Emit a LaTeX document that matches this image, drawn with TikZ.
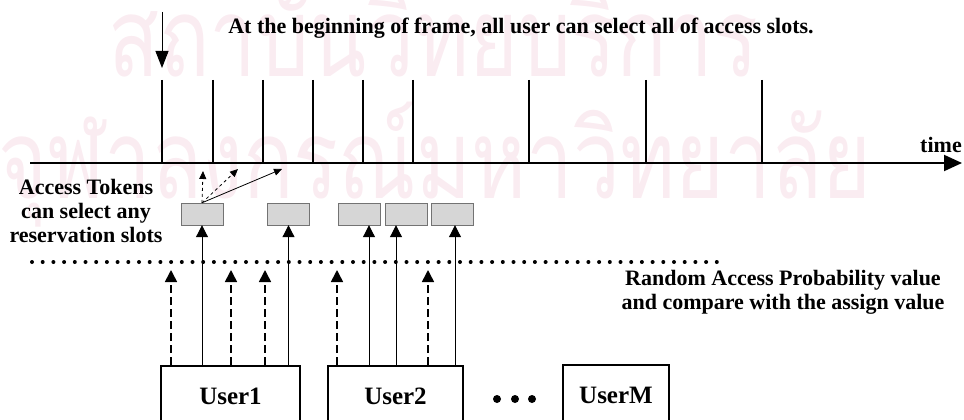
\documentclass[tikz,border=0pt]{standalone}
\usepackage{fontspec}
\setmainfont{Liberation Serif}
\newfontfamily\thaifont[Script=Thai,FakeStretch=0.76]{Loma}
\usetikzlibrary{arrows.meta}
\definecolor{wmpink}{RGB}{250,236,241}
\definecolor{slotgray}{RGB}{214,214,214}

\begin{document}
\begin{tikzpicture}[x=1pt,y=-1pt,
  lbl/.style={font=\bfseries\fontsize{22}{24}\selectfont,align=center,inner sep=0pt},
  wmark/.style={anchor=base west,text=wmpink,inner sep=0pt,font=\thaifont\fontsize{110}{110}\selectfont},
  userbox/.style={draw,line width=1.5pt,anchor=north,minimum height=62pt,
    font=\bfseries\fontsize{25}{25}\selectfont},
  slotbox/.style={draw=black!55,fill=slotgray,minimum width=42pt,minimum height=22pt,inner sep=0pt},
  up/.style={-{Triangle[length=12pt,width=12pt]},line width=1pt},
  dashup/.style={up,line width=1.6pt,dash pattern=on 8pt off 4pt},
  tok/.style={-{Triangle[length=8pt,width=7pt]},line width=0.8pt}]
\clip (0,0) rectangle (964,420);
\node[wmark] (wm1) at (108,77) {สถาบันวิทยบริการ};
\node[wmark] (wm2) at (-2,198) {จุฬาลงกรณ์มหาวิทยาลัย};

\node[lbl] (head) at (521,28) {At the beginning of frame, all user can select all of access slots.};
\coordinate (fstart) at (162,12);
\coordinate (fend) at (162,68);
\draw[-{Triangle[length=17pt,width=13pt]},line width=1pt] (fstart) -- (fend);

\coordinate (t0) at (30,163);
\coordinate (t1) at (962,163);
\draw[-{Triangle[length=18pt,width=16pt]},line width=2pt] (t0) -- (t1);
\node[lbl] (time) at (941,145) {time};
\foreach \x in {162,213,263,313,363,413,529,646,762}
  \draw[line width=1.6pt] (\x,80) -- (\x,163);

\node[lbl] (tokens) at (86,211) {Access Tokens\\can select any\\reservation slots};
\node[slotbox] (s1) at (202,214) {};
\node[slotbox] (s2) at (288.5,214) {};
\node[slotbox] (s3) at (359,214) {};
\node[slotbox] (s4) at (406,214) {};
\node[slotbox] (s5) at (452.5,214) {};
\coordinate (a1) at (203,171);
\coordinate (a2) at (238,169);
\coordinate (a3) at (282,169);
\draw[tok,dashed] (s1.north) -- (a1);
\draw[tok,dashed] (s1.north) -- (a2);
\draw[tok] (s1.north) -- (a3);

\coordinate (d0) at (32,262);
\coordinate (d1) at (717,262);
\draw[line width=4pt,line cap=round,dash pattern=on 0pt off 10.7pt] (d0) -- (d1);
\node[lbl] (rap) at (783,292) {Random Access Probability value\\and compare with the assign value};

\node[userbox,minimum width=139pt] (u1) at (230.5,365) {User1};
\node[userbox,minimum width=135pt] (u2) at (395.5,365) {User2};
\node[userbox,minimum width=106pt] (uM) at (616,364) {UserM};
\foreach \x in {497,515,532}
  \fill (\x,399) circle (4pt);

\coordinate (p3) at ([xshift=10pt]s3.south);
\coordinate (p4) at ([xshift=-10pt]s4.south);
\coordinate (p5) at ([xshift=2.5pt]s5.south);
\draw[up] (s1.south |- u1.north) -- (s1.south);
\draw[up] (s2.south |- u1.north) -- (s2.south);
\draw[up] (p3 |- u2.north) -- (p3);
\draw[up] (p4 |- u2.north) -- (p4);
\draw[up] (p5 |- u2.north) -- (p5);

\foreach \x/\u in {171/u1,231/u1,265/u1,337/u2,428/u2}{
  \coordinate (r\x) at (\x,270);
  \draw[dashup] (r\x |- \u.north) -- (r\x);
}
\end{tikzpicture}
\end{document}
